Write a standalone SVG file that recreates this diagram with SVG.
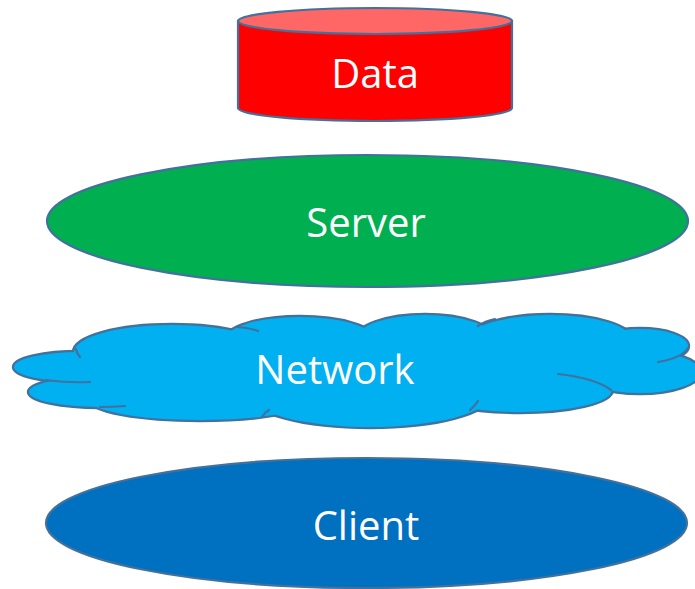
<svg xmlns="http://www.w3.org/2000/svg" width="695" height="589" viewBox="0 0 695 589">
<style>
.ol{stroke:#41719C;stroke-width:2.2}
.lbl{font-family:"Open Sans","Liberation Sans",sans-serif;font-size:40px;fill:#fff;text-anchor:middle}
.cl{fill:#00B0F0}
.clo{fill:#00B0F0;stroke:#41719C;stroke-width:4.4}
.ia{fill:none;stroke:#41719C;stroke-width:2.2;stroke-linecap:round}
</style>
<rect width="695" height="589" fill="#fff"/>
<g id="connectors"/>
<g id="data">
<path class="ol" fill="#FF0000" d="M238,21 V108 A137,13 0 0 0 512,108 V21 Z"/>
<ellipse class="ol" fill="#FF6666" cx="375" cy="21" rx="137" ry="13"/>
<text class="lbl" x="375" y="88">Data</text>
</g>
<g id="server">
<ellipse class="ol" fill="#00B050" cx="367.5" cy="221" rx="320.5" ry="66"/>
<text class="lbl" x="366" y="237">Server</text>
</g>
<g id="network">
<g class="clo">
<ellipse cx="172" cy="352" rx="98" ry="27"/>
<ellipse cx="80" cy="367" rx="66" ry="15"/>
<ellipse cx="100" cy="392" rx="71" ry="15"/>
<ellipse cx="200" cy="400" rx="110" ry="20"/>
<ellipse cx="370" cy="395" rx="120" ry="32"/>
<ellipse cx="520" cy="390" rx="92" ry="22"/>
<ellipse cx="640" cy="372" rx="60" ry="21"/>
<ellipse cx="640" cy="346" rx="48" ry="17"/>
<ellipse cx="550" cy="340" rx="82" ry="25"/>
<ellipse cx="425" cy="340" rx="70" ry="25"/>
<ellipse cx="300" cy="340" rx="75" ry="23"/>
</g>
<g class="cl">
<ellipse cx="172" cy="352" rx="98" ry="27"/>
<ellipse cx="80" cy="367" rx="66" ry="15"/>
<ellipse cx="100" cy="392" rx="71" ry="15"/>
<ellipse cx="200" cy="400" rx="110" ry="20"/>
<ellipse cx="370" cy="395" rx="120" ry="32"/>
<ellipse cx="520" cy="390" rx="92" ry="22"/>
<ellipse cx="640" cy="372" rx="60" ry="21"/>
<ellipse cx="640" cy="346" rx="48" ry="17"/>
<ellipse cx="550" cy="340" rx="82" ry="25"/>
<ellipse cx="425" cy="340" rx="70" ry="25"/>
<ellipse cx="300" cy="340" rx="75" ry="23"/>
<rect x="120" y="340" width="480" height="60"/>
</g>
<g class="ia">
<path d="M76,349 Q77,354 80,357"/>
<path d="M46,380 Q68,383 90,382"/>
<path d="M100,407 Q113,407 125,406"/>
<path d="M237,327 Q250,328 258,331"/>
<path d="M262,417 Q264,413 269,410"/>
<path d="M470,410 Q475,406 478,401"/>
<path d="M558,374 Q595,378 611,390"/>
<path d="M688,348 Q682,358 658,362"/>
<path d="M478,326 Q485,321 495,319"/>
</g>
<text class="lbl" x="335" y="384">Network</text>
</g>
<g id="client">
<ellipse class="ol" fill="#0070C0" cx="366.5" cy="523" rx="320.5" ry="65"/>
<text class="lbl" x="366" y="540">Client</text>
</g>
</svg>
